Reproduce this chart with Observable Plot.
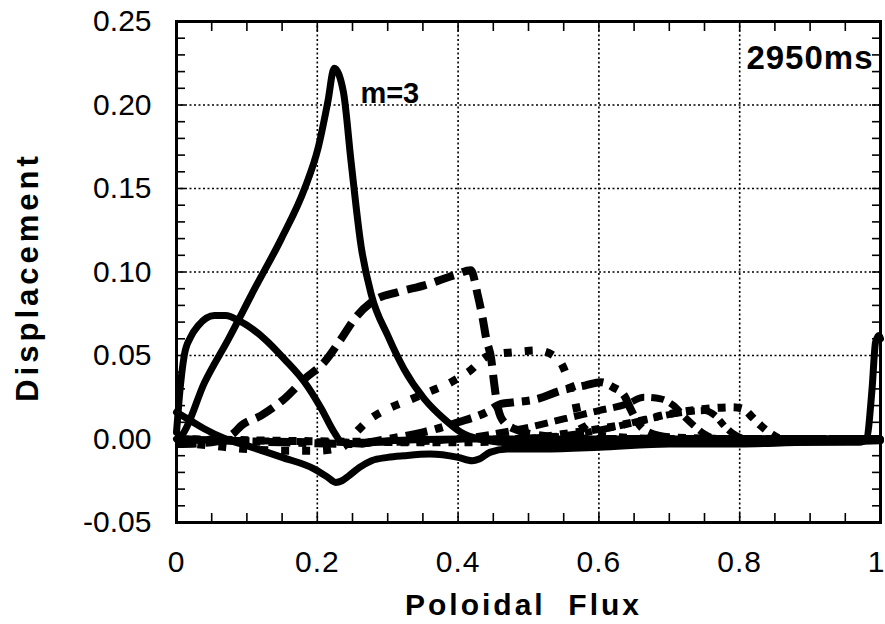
<!DOCTYPE html>
<html><head><meta charset="utf-8">
<script src="https://cdn.jsdelivr.net/npm/d3@7"></script>
<script src="https://cdn.jsdelivr.net/npm/@observablehq/plot@0.6"></script>
<style>
body{margin:0;background:#fff}
</style>
</head><body><div id="chart"></div>
<script>
// Poloidal flux (x) vs displacement (y), one array per poloidal harmonic
const m1 = [[0,0.016],[0.02,0.011],[0.04,0.006],[0.07,0.0],[0.1,-0.004],[0.15,-0.011],[0.196,-0.018],[0.215,-0.023],[0.226,-0.026],[0.235,-0.025],[0.245,-0.022],[0.26,-0.017],[0.277,-0.013],[0.3,-0.011],[0.323,-0.010],[0.36,-0.009],[0.4,-0.011],[0.42,-0.013],[0.43,-0.012],[0.445,-0.008],[0.47,-0.006],[0.52,-0.006],[0.6,-0.005],[0.7,-0.003],[0.8,-0.003],[0.9,-0.002],[0.97,-0.002],[0.98,0.0],[0.988,0.03],[0.993,0.058],[0.998,0.062],[1,0.06]];
const m2 = [[0,0.004],[0.004,0.025],[0.011,0.05],[0.02,0.061],[0.031,0.068],[0.054,0.074],[0.07,0.074],[0.088,0.071],[0.125,0.06],[0.153,0.048],[0.182,0.034],[0.206,0.018],[0.224,0.004],[0.235,-0.002],[0.26,-0.003],[0.3,-0.001],[0.4,0.0],[0.6,0.0],[0.8,0.0],[0.97,0.0],[1,0.0]];
const m3 = [[0,0.0],[0.007,0.002],[0.04,0.034],[0.074,0.06],[0.111,0.09],[0.149,0.12],[0.182,0.15],[0.201,0.174],[0.215,0.202],[0.224,0.222],[0.237,0.208],[0.248,0.166],[0.262,0.116],[0.277,0.086],[0.3,0.062],[0.323,0.042],[0.352,0.024],[0.38,0.012],[0.404,0.004],[0.43,0.0],[0.5,-0.003],[0.6,-0.003],[0.7,-0.002],[0.85,-0.002],[1,-0.001]];
const m4 = [[0,-0.003],[0.05,-0.002],[0.08,0.003],[0.092,0.008],[0.12,0.014],[0.153,0.024],[0.182,0.036],[0.21,0.046],[0.234,0.06],[0.253,0.072],[0.277,0.082],[0.315,0.088],[0.352,0.092],[0.394,0.098],[0.418,0.101],[0.428,0.086],[0.435,0.072],[0.44,0.06],[0.447,0.048],[0.451,0.034],[0.455,0.022],[0.462,0.012],[0.48,0.006],[0.52,0.002],[0.6,0.0],[0.8,0.0],[1,0.0]];
const m5 = [[0,-0.002],[0.05,-0.004],[0.1,-0.006],[0.15,-0.007],[0.2,-0.007],[0.235,-0.005],[0.255,0.004],[0.272,0.011],[0.3,0.018],[0.329,0.023],[0.357,0.028],[0.39,0.034],[0.414,0.04],[0.444,0.05],[0.48,0.052],[0.513,0.053],[0.542,0.048],[0.556,0.036],[0.565,0.025],[0.57,0.015],[0.58,0.006],[0.6,0.002],[0.7,0.0],[1,0.0]];
const m6 = [[0,0.0],[0.15,-0.002],[0.25,-0.003],[0.3,0.0],[0.35,0.004],[0.4,0.01],[0.44,0.016],[0.461,0.021],[0.48,0.022],[0.513,0.024],[0.546,0.029],[0.58,0.032],[0.603,0.034],[0.62,0.031],[0.636,0.026],[0.645,0.018],[0.655,0.01],[0.67,0.004],[0.7,0.001],[0.8,0.0],[1,0.0]];
const m7 = [[0,0.0],[0.3,-0.002],[0.4,0.0],[0.45,0.003],[0.5,0.007],[0.55,0.012],[0.6,0.017],[0.64,0.021],[0.664,0.025],[0.688,0.024],[0.706,0.02],[0.72,0.014],[0.735,0.008],[0.75,0.003],[0.77,0.0],[1,0.0]];
const m8 = [[0,0.0],[0.4,-0.002],[0.5,0.0],[0.55,0.003],[0.6,0.006],[0.65,0.01],[0.7,0.015],[0.75,0.018],[0.79,0.019],[0.805,0.018],[0.818,0.013],[0.83,0.008],[0.845,0.003],[0.86,0.0],[1,0.0]];
const m9 = [[0.45,0.0],[0.55,0.002],[0.62,0.007],[0.67,0.012],[0.72,0.016],[0.75,0.017],[0.765,0.014],[0.78,0.007],[0.795,0.002],[0.81,0.0],[1,0.0]];

const xTickLabels = [0, 0.2, 0.4, 0.6, 0.8];
const xTickLast = [1];
const yTickLabels = [-0.05, 0, 0.05, 0.10, 0.15, 0.20, 0.25];
const annotationText = ["m=3"];
const annotationX = [0.303];
const annotationY = [0.207];
const timeLabel = "2950ms";

// line styles (kept separate from data)
const styles = {
  m1: {w: 7, dash: null},
  m2: {w: 7, dash: null},
  m3: {w: 7, dash: null},
  m4: {w: 8, dash: "20,9"},
  m5: {w: 8, dash: "8,13"},
  m6: {w: 8, dash: "22,8,8,8"},
  m7: {w: 7, dash: "13,7"},
  m8: {w: 8, dash: "8,8"},
  m9: {w: 7, dash: "16,6,7,6"}
};
const seriesList = {m1, m2, m3, m4, m5, m6, m7, m8, m9};

const lineMarks = Object.entries(seriesList).map(([name, pts]) =>
  Plot.line(pts.map(([x, y]) => ({x, y})), {
    x: "x", y: "y", stroke: "black",
    strokeWidth: styles[name].w,
    strokeDasharray: styles[name].dash || undefined,
    strokeLinecap: styles[name].dash ? "butt" : "round",
    strokeLinejoin: "round",
    curve: "monotone-x"
  })
);

const minorX = d3.range(0, 1.0001, 0.05).map(v => +v.toFixed(2));
const minorY = d3.range(-0.05, 0.2501, 0.01).map(v => +v.toFixed(2));
const fmtX = d => (d === 0 || d === 1) ? String(d) : d.toFixed(1);
const fmtY = d => d.toFixed(2).replace("\u2212", "-");

const chart = Plot.plot({
  width: 885, height: 624,
  marginLeft: 176, marginRight: 5, marginTop: 21, marginBottom: 102,
  style: {fontFamily: "'Liberation Sans', Arial, Helvetica, sans-serif", background: "white", color: "black"},
  x: {domain: [0, 1]},
  y: {domain: [-0.05, 0.25]},
  marks: [
    Plot.gridX({ticks: [0.2, 0.4, 0.6, 0.8], stroke: "black", strokeOpacity: 1, strokeWidth: 1.6, strokeDasharray: "2,2.5"}),
    Plot.gridY({ticks: [0.05, 0.10, 0.15, 0.20], stroke: "black", strokeOpacity: 1, strokeWidth: 1.6, strokeDasharray: "2,2.5"}),
    ...lineMarks,
    // inward ticks on all four sides
    Plot.axisX({anchor: "bottom", ticks: minorX, tickSize: -9, tickFormat: () => "", label: null, strokeWidth: 1.6}),
    Plot.axisX({anchor: "top", ticks: minorX, tickSize: -9, tickFormat: () => "", label: null, strokeWidth: 1.6}),
    Plot.axisY({anchor: "left", ticks: minorY, tickSize: -9, tickFormat: () => "", label: null, strokeWidth: 1.6}),
    Plot.axisY({anchor: "right", ticks: minorY, tickSize: -9, tickFormat: () => "", label: null, strokeWidth: 1.6}),
    // tick labels
    Plot.axisX({anchor: "bottom", ticks: xTickLabels, tickSize: 0, tickPadding: 28, tickFormat: fmtX, label: null, fontSize: 30}),
    Plot.axisX({anchor: "bottom", ticks: xTickLast, tickSize: 0, tickPadding: 28, tickFormat: fmtX, label: null, fontSize: 30, dx: -4}),
    Plot.axisY({anchor: "left", ticks: yTickLabels, tickSize: 0, tickPadding: 25, tickFormat: fmtY, label: null, fontSize: 30}),
    Plot.frame({stroke: "black", strokeWidth: 3}),
    // axis titles
    Plot.text([0], {frameAnchor: "left", text: () => "Displacement", rotate: -90, textAnchor: "middle", lineAnchor: "middle", dx: -148, dy: 5, fontSize: 31, fontWeight: "bold"}),
    Plot.text([0], {frameAnchor: "bottom", text: () => "Poloidal\u00a0\u00a0Flux", textAnchor: "middle", lineAnchor: "middle", dx: -5, dy: 83, fontSize: 30, fontWeight: "bold"}),
    // annotations
    Plot.text(annotationText, {x: (d, i) => annotationX[i], y: (d, i) => annotationY[i], text: d => d, fontSize: 29, fontWeight: "bold"}),
    Plot.text([timeLabel], {frameAnchor: "top-right", text: d => d, textAnchor: "end", lineAnchor: "middle", dx: -7, dy: 37, fontSize: 33, fontWeight: "bold"})
  ]
});
document.getElementById("chart").appendChild(chart);
// letter spacing like the original typesetting
const svg = d3.select(chart);
svg.selectAll("text").filter(function(){ return /Displacement/.test(this.textContent); }).style("letter-spacing", "4px");
svg.selectAll("text").filter(function(){ return /Poloidal/.test(this.textContent); }).style("letter-spacing", "3px");
svg.selectAll("text").filter(function(){ return this.textContent === timeLabel; }).style("letter-spacing", "1px");
svg.selectAll("g[aria-label='x-axis tick label'] text").style("letter-spacing", "1px");
</script>
</body></html>
